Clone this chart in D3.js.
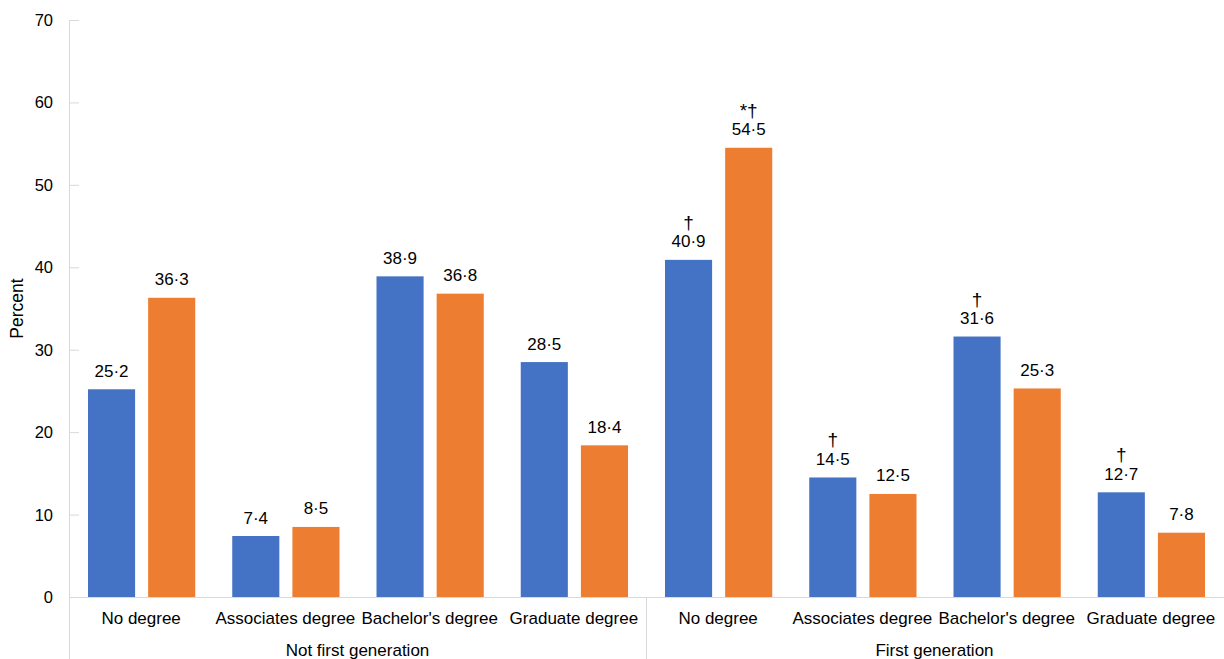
<!DOCTYPE html>
<html lang="en">
<head>
<meta charset="utf-8">
<title>First generation degree chart</title>
<script type="text/javascript" src="https://cdn.jsdelivr.net/npm/d3@7/dist/d3.min.js"></script>
<style>
body { margin: 0; background: #fff; }
text { font-family: "Liberation Sans", Arial, sans-serif; fill: #000; }
</style>
</head>
<body>
<script type="text/javascript">

// DATA
var groups = ["Not first generation", "First generation"];
var degrees = ["No degree", "Associates degree", "Bachelor's degree", "Graduate degree"];
var seriesA = [25.2, 7.4, 38.9, 28.5, 40.9, 14.5, 31.6, 12.7];
var seriesB = [36.3, 8.5, 36.8, 18.4, 54.5, 12.5, 25.3, 7.8];
var marksA = ["", "", "", "", "\u2020", "\u2020", "\u2020", "\u2020"];
var marksB = ["", "", "", "", "*\u2020", "", "", ""];
var yTicks = [0, 10, 20, 30, 40, 50, 60, 70];

var w = 1224;
var h = 659;
// plot edges (note: "top" is taken by window.top)
var pLeft = 69, pRight = 1223, pTop = 20, pBottom = 597;
var colors = ["#4472c4", "#ed7d31"];
var axisColor = "#d9d9d9";

// one slot per group/degree pair
var cats = [];
groups.forEach(function(g, gi) {
  degrees.forEach(function(d, di) {
    cats.push({ group: g, gi: gi, degree: d, i: gi * degrees.length + di });
  });
});

var svg = d3.select("body")
  .append("svg")
  .attr("width", w)
  .attr("height", h);

var x0 = d3.scaleBand()
  .domain(cats.map(function(c) { return c.i; }))
  .range([pLeft, pRight]);

var xg = d3.scaleBand()
  .domain(d3.range(groups.length))
  .range([pLeft, pRight]);

var x1 = d3.scaleBand()
  .domain([0, 1])
  .range([19, x0.bandwidth() - 18])
  .paddingInner(0.217);

var y = d3.scaleLinear()
  .domain([0, 70])
  .range([pBottom, pTop]);

// y axis
var yAxis = svg.append("g")
  .attr("transform", "translate(" + pLeft + ",0)")
  .call(d3.axisRight(y).tickValues(yTicks).tickSize(10).tickFormat(""));
yAxis.select(".domain").remove();
yAxis.selectAll("line").attr("stroke", axisColor);

svg.selectAll("text.ytick")
  .data(yTicks)
  .enter()
  .append("text")
  .attr("class", "ytick")
  .attr("x", 53)
  .attr("y", function(d) { return y(d) + 6; })
  .attr("text-anchor", "end")
  .attr("font-size", "16.5px")
  .text(function(d) { return d; });

svg.append("text")
  .attr("transform", "translate(23," + ((pTop + pBottom) / 2) + ") rotate(-90)")
  .attr("text-anchor", "middle")
  .attr("font-size", "17.5px")
  .text("Percent");

// bars
var slots = svg.selectAll("g.slot")
  .data(cats)
  .enter()
  .append("g")
  .attr("class", "slot")
  .attr("transform", function(c) { return "translate(" + x0(c.i) + ",0)"; });

[seriesA, seriesB].forEach(function(series, s) {
  var marks = s === 0 ? marksA : marksB;
  slots.append("rect")
    .attr("x", x1(s))
    .attr("width", x1.bandwidth())
    .attr("y", function(c) { return y(series[c.i]); })
    .attr("height", function(c) { return pBottom - y(series[c.i]); })
    .attr("fill", colors[s]);

  slots.append("text")
    .attr("x", x1(s) + x1.bandwidth() / 2)
    .attr("y", function(c) { return y(series[c.i]) - 12.5; })
    .attr("text-anchor", "middle")
    .attr("font-size", "17px")
    .text(function(c) { return String(series[c.i]).replace(".", "\u00b7"); });

  // significance marks sit one line above the value
  slots.append("text")
    .attr("x", x1(s) + x1.bandwidth() / 2)
    .attr("y", function(c) { return y(series[c.i]) - 31; })
    .attr("text-anchor", "middle")
    .attr("font-size", "19px")
    .text(function(c) { return marks[c.i]; });
});

// x axis lines
svg.append("line")
  .attr("x1", pLeft).attr("x2", w)
  .attr("y1", pBottom + 0.5).attr("y2", pBottom + 0.5)
  .attr("stroke", axisColor);

svg.append("line")
  .attr("x1", pLeft + 0.5).attr("x2", pLeft + 0.5)
  .attr("y1", pTop).attr("y2", h)
  .attr("stroke", axisColor);

svg.selectAll("line.sep")
  .data(d3.range(1, groups.length))
  .enter()
  .append("line")
  .attr("class", "sep")
  .attr("x1", function(d) { return Math.round(xg(d)) + 0.5; })
  .attr("x2", function(d) { return Math.round(xg(d)) + 0.5; })
  .attr("y1", pBottom)
  .attr("y2", h)
  .attr("stroke", axisColor);

// category labels
svg.selectAll("text.cat")
  .data(cats)
  .enter()
  .append("text")
  .attr("class", "cat")
  .attr("x", function(c) { return x0(c.i) + x0.bandwidth() / 2; })
  .attr("y", 624)
  .attr("text-anchor", "middle")
  .attr("font-size", "17px")
  .text(function(c) { return c.degree; });

svg.selectAll("text.grp")
  .data(groups)
  .enter()
  .append("text")
  .attr("class", "grp")
  .attr("x", function(g, i) { return xg(i) + xg.bandwidth() / 2; })
  .attr("y", 656)
  .attr("text-anchor", "middle")
  .attr("font-size", "17px")
  .text(function(g) { return g; });

</script>
</body>
</html>
